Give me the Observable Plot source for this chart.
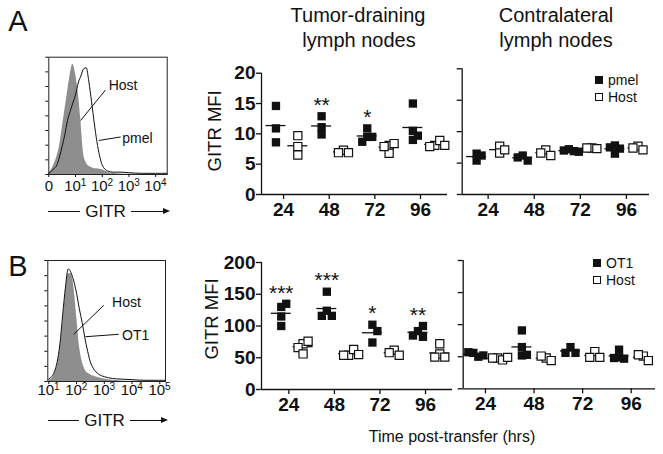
<!DOCTYPE html>
<html><head><meta charset="utf-8">
<script src="https://cdn.jsdelivr.net/npm/d3@7"></script>
<script src="https://cdn.jsdelivr.net/npm/@observablehq/plot@0.6"></script>
<style>
body{margin:0;background:#fff;}
#fig{position:relative;width:663px;height:454px;overflow:hidden;background:#fff;font-family:"Liberation Sans",Arial,Helvetica,sans-serif;color:#111;}
.t{position:absolute;white-space:nowrap;line-height:1;}
</style></head><body><div id="fig"></div>
<script>
// ---------- data ----------
const times = [24, 48, 72, 96];
// Panel A: GITR MFI (tumor-draining / contralateral lymph nodes)
const pmelTumor   = [[14.6,10.9,8.6],[12.9,11.1,9.9],[10.9,9.5,9.5,8.7],[15.0,10.5,9.7,9.0]];
const hostTumorA  = [[9.7,7.9,6.5],[7.3,6.9,6.9],[8.1,8.4,6.8,7.9],[8.1,8.9,7.9,8.1]];
const pmelContra  = [[6.5,5.4,6.2],[6.2,5.4,5.9],[7.2,6.9,7.0,6.8],[7.8,7.3,6.5,7.5]];
const hostContraA = [[7.7,6.6,7.1],[7.1,6.2,6.6],[7.4,7.3,7.4],[7.7,7.1,7.4]];
// Panel B
const ot1Tumor    = [[100,130,135,115],[154,124,116,116],[102,92,74],[92,100,83,85]];
const hostTumorB  = [[72,76,66,56],[54,63,54,55],[62,54,58],[56,72,51,51]];
const ot1Contra   = [[56,50,57,52],[91,65,52,53],[65,56,56],[49,47,61,48]];
const hostContraB = [[48,45,48,49],[48,44,51],[58,49,49],[51,44,53]];
const starsA = ["", "**", "*", ""];
const starsB = ["***", "***", "*", "**"];
const yTicksA = [0,5,10,15,20];
const yTicksB = [0,50,100,150,200];
// Histograms (x in decades, y as fraction of max count)
const histGridA = [0,0.1,0.2,0.3,0.4,0.5,0.6,0.7,0.8,0.9,1.0,1.1,1.2,1.3,1.4,1.5,1.6,1.7,1.8,1.9,2.0,2.2,2.4,2.7,3.0,3.5,4.0,4.43];
const histHostA = [0.01,0.04,0.09,0.15,0.24,0.39,0.55,0.70,0.85,0.94,0.86,0.70,0.46,0.18,0.10,0.07,0.06,0.05,0.05,0.045,0.04,0.02,0.01,0.005,0.003,0.002,0.001,0];
const histPmelA = [0.01,0.03,0.05,0.08,0.15,0.24,0.34,0.46,0.54,0.61,0.68,0.78,0.84,0.90,0.91,0.79,0.62,0.44,0.28,0.16,0.08,0.03,0.02,0.02,0.015,0.01,0.01,0.01];
const histGridB = [1.0,1.1,1.2,1.3,1.4,1.5,1.6,1.7,1.8,1.9,2.0,2.1,2.2,2.3,2.4,2.5,2.6,2.8,3.0,3.3,3.6,4.0,4.5,5.0,5.2];
const histHostB = [0.01,0.02,0.06,0.13,0.26,0.47,0.72,0.89,0.89,0.79,0.55,0.30,0.17,0.10,0.07,0.055,0.045,0.03,0.02,0.01,0.005,0.003,0.002,0.001,0];
const histOt1B  = [0.02,0.04,0.08,0.16,0.31,0.55,0.78,0.93,0.90,0.83,0.73,0.60,0.49,0.36,0.25,0.16,0.11,0.06,0.04,0.025,0.02,0.015,0.01,0.01,0.01];
const histTicksA = [0,1,2,3,4];
const histTicksB = [1,2,3,4,5];

// ---------- helpers ----------
const fig = document.getElementById("fig");
const FONT = '"Liberation Sans", Arial, Helvetica, sans-serif';
const INK = "#111";
function txt(s, x, y, size, opt = {}) {
  const d = document.createElement("div");
  d.className = "t";
  d.textContent = s;
  d.style.left = x + "px"; d.style.top = y + "px";
  d.style.fontSize = size + "px";
  if (opt.weight) d.style.fontWeight = opt.weight;
  d.style.transform = opt.left ? "translate(0,-50%)" : "translate(-50%,-50%)";
  fig.appendChild(d);
}
function place(svg, x, y) {
  svg.style.position = "absolute";
  svg.style.left = x + "px"; svg.style.top = y + "px";
  fig.appendChild(svg);
}

function histPanel(o) {
  const host = o.grid.map((x, i) => ({x, y: o.host[i]}));
  const cell = o.grid.map((x, i) => ({x, y: o.cell[i]}));
  const zero = o.ticks.filter(d => d === 0), pow = o.ticks.filter(d => d !== 0);
  return Plot.plot({
    width: o.W, height: o.H,
    marginLeft: o.ml, marginRight: o.mr, marginTop: o.mt, marginBottom: o.mb,
    x: {domain: o.xd}, y: {domain: [0, 1]},
    style: {background: "transparent", overflow: "visible", fontFamily: FONT, color: INK},
    marks: [
      Plot.areaY(host, {x: "x", y: "y", fill: "#8e8e8e", curve: "monotone-x"}),
      Plot.lineY(cell, {x: "x", y: "y", stroke: INK, strokeWidth: 1, curve: "monotone-x"}),
      Plot.frame({stroke: "#222", strokeWidth: 1}),
      Plot.axisX({ticks: o.ticks, tickFormat: () => "", tickSize: 3, label: null}),
      Plot.axisY({ticks: d3.range(0, 1.001, 0.125), tickSize: 3, tickFormat: () => "", label: null}),
      Plot.text(zero, {x: d => d, text: () => "0", frameAnchor: "bottom", dy: o.labDy, fontSize: 15}),
      Plot.text(pow, {x: d => d, text: () => "10", frameAnchor: "bottom", dx: -3, dy: o.labDy, fontSize: 15}),
      Plot.text(pow, {x: d => d, text: d => String(d), frameAnchor: "bottom", dx: 8, dy: o.labDy - 5, fontSize: 10}),
      Plot.link(o.leaders, {x1: "x1", y1: "y1", x2: "x2", y2: "y2", stroke: INK, strokeWidth: 1}),
      Plot.text(o.annots, {x: "x", y: "y", text: "text", textAnchor: "start", fontSize: 14})
    ]
  });
}

function scatterPanel(o) {
  const fw = o.W - o.ml - o.mr, fh = o.H - o.mt - o.mb;
  const kx = fw / (o.xd[1] - o.xd[0]), ky = fh / (o.yd[1] - o.yd[0]);
  const step = 5, thr = 6.5;
  const pts = [], means = [], stars = [];
  times.forEach((t, i) => {
    [[o.filled[i], true, o.offF], [o.open[i], false, o.offO]].forEach(([vals, filled, off]) => {
      const cx = t + off;
      const placed = [];
      vals.forEach(v => {
        const yp = v * ky;
        let c = 0;
        for (let k = 0; k < 30; k++) {
          c = (k % 2 ? 1 : -1) * Math.ceil(k / 2) * step;
          if (placed.every(p => Math.abs(p.c - c) >= step * 0.99 || Math.abs(p.y - yp) >= thr)) break;
        }
        placed.push({c, y: yp});
        pts.push({x: cx + c / kx, y: v, filled});
      });
      means.push({x1: cx - 10 / kx, x2: cx + 10 / kx, y: d3.mean(vals)});
    });
    if (o.stars && o.stars[i]) stars.push({x: t + o.offF, y: d3.max(o.filled[i]), s: o.stars[i]});
  });
  const marks = [
    Plot.ruleY([0], {stroke: INK, strokeWidth: 1.3}),
    Plot.ruleX([o.xd[0]], {stroke: INK, strokeWidth: 1.3}),
    Plot.axisY({ticks: o.yt, tickSize: 5, tickPadding: 1, tickFormat: o.ylab ? (d => d) : (() => ""),
                fontSize: 19, fontWeight: "bold", label: null, strokeWidth: 1.3}),
    Plot.axisX({ticks: times, tickSize: 5, tickPadding: 3, fontSize: 19, fontWeight: "bold", label: null, strokeWidth: 1.3}),
    Plot.ruleY(means, {x1: "x1", x2: "x2", y: "y", stroke: INK, strokeWidth: 1.3}),
    Plot.dot(pts.filter(d => !d.filled), {x: "x", y: "y", symbol: "square", r: 4.6, fill: "white", stroke: INK, strokeWidth: 1.2}),
    Plot.dot(pts.filter(d => d.filled), {x: "x", y: "y", symbol: "square", r: 4.7, fill: INK, stroke: "none"}),
    Plot.text(stars, {x: "x", y: "y", text: "s", dy: -11, fontSize: 21})
  ];
  if (o.ylab) marks.push(Plot.text([o.ylab], {frameAnchor: "left", textAnchor: "middle", text: d => d, rotate: -90, dx: o.ylabDx, dy: o.ylabDy, fontSize: 18.5}));
  return Plot.plot({
    width: o.W, height: o.H,
    marginLeft: o.ml, marginRight: o.mr, marginTop: o.mt, marginBottom: o.mb,
    x: {domain: o.xd}, y: {domain: o.yd},
    style: {background: "transparent", overflow: "visible", fontFamily: FONT, color: INK},
    marks
  });
}

function legend(x, y, items) {
  items.forEach((it, i) => {
    const sq = document.createElement("div");
    sq.style.cssText = `position:absolute;left:${x - 4}px;top:${y + i * 17 - 4}px;width:8px;height:8px;box-sizing:border-box;` +
      (it.filled ? `background:${INK};` : `background:#fff;border:1px solid ${INK};`);
    fig.appendChild(sq);
    txt(it.label, x + 9, y + i * 17, 14, {left: true});
  });
}

function gitrArrow(x1, x2, y) {
  const d = document.createElement("div");
  d.style.cssText = `position:absolute;left:${x1}px;top:${y - 10}px;width:${x2 - x1}px;height:20px;display:flex;align-items:center;`;
  d.innerHTML = `<span style="flex:1;border-top:1px solid ${INK};"></span>` +
    `<span style="font-size:17px;padding:0 5px;line-height:1;">GITR</span>` +
    `<span style="flex:1;border-top:1px solid ${INK};"></span>` +
    `<span style="width:0;height:0;border-left:7px solid ${INK};border-top:3px solid transparent;border-bottom:3px solid transparent;"></span>`;
  fig.appendChild(d);
}

// ---------- layout ----------
txt("A", 18, 21, 29);
txt("B", 18, 266, 29);
txt("Tumor-draining", 358, 15, 20);
txt("lymph nodes", 359, 40, 20);
txt("Contralateral", 556, 15, 20);
txt("lymph nodes", 556, 40, 20);
txt("Time post-transfer (hrs)", 452, 437, 16);

place(histPanel({
  W: 200, H: 165, ml: 48.3, mr: 33.3, mt: 16.7, mb: 31, xd: [0, 4.43], labDy: 16,
  grid: histGridA, host: histHostA, cell: histPmelA, ticks: histTicksA,
  annots: [{x: 2.24, y: 0.76, text: "Host"}, {x: 2.75, y: 0.31, text: "pmel"}],
  leaders: [{x1: 2.12, y1: 0.72, x2: 1.19, y2: 0.46}, {x1: 2.69, y1: 0.32, x2: 1.87, y2: 0.29}]
}), 0, 40);
gitrArrow(48, 170, 211);

place(histPanel({
  W: 200, H: 165, ml: 47.3, mr: 35, mt: 15, mb: 29, xd: [0.964, 5.205], labDy: 13,
  grid: histGridB, host: histHostB, cell: histOt1B, ticks: histTicksB,
  annots: [{x: 3.28, y: 0.655, text: "Host"}, {x: 3.64, y: 0.38, text: "OT1"}],
  leaders: [{x1: 2.98, y1: 0.63, x2: 1.9, y2: 0.39}, {x1: 3.52, y1: 0.39, x2: 2.32, y2: 0.37}]
}), 0, 245);
gitrArrow(48, 168, 420);

place(scatterPanel({
  W: 265, H: 180, ml: 71, mr: 8, mt: 22.7, mb: 36, xd: [12.4, 110.2], yd: [0, 20], yt: yTicksA,
  filled: pmelTumor, open: hostTumorA, offF: -4, offO: 7.5, stars: starsA,
  ylab: "GITR MFI", ylabDx: -46, ylabDy: -3
}), 190, 50);
place(scatterPanel({
  W: 218, H: 180, ml: 16.7, mr: 14, mt: 18.3, mb: 36, xd: [10.5, 108], yd: [0, 20], yt: yTicksA,
  filled: pmelContra, open: hostContraA, offF: -6, offO: 6
}), 445, 50);
place(scatterPanel({
  W: 265, H: 180, ml: 71, mr: 3, mt: 17, mb: 36, xd: [9.6, 110.2], yd: [0, 200], yt: yTicksB,
  filled: ot1Tumor, open: hostTumorB, offF: -4, offO: 7.5, stars: starsB,
  ylab: "GITR MFI", ylabDx: -49, ylabDy: -7
}), 190, 245);
place(scatterPanel({
  W: 218, H: 180, ml: 17.7, mr: 8, mt: 15, mb: 36.7, xd: [13, 108], yd: [0, 200], yt: yTicksB,
  filled: ot1Contra, open: hostContraB, offF: -6, offO: 6
}), 445, 245);

legend(599, 80, [{label: "pmel", filled: true}, {label: "Host", filled: false}]);
legend(597, 263, [{label: "OT1", filled: true}, {label: "Host", filled: false}]);
</script></body></html>
